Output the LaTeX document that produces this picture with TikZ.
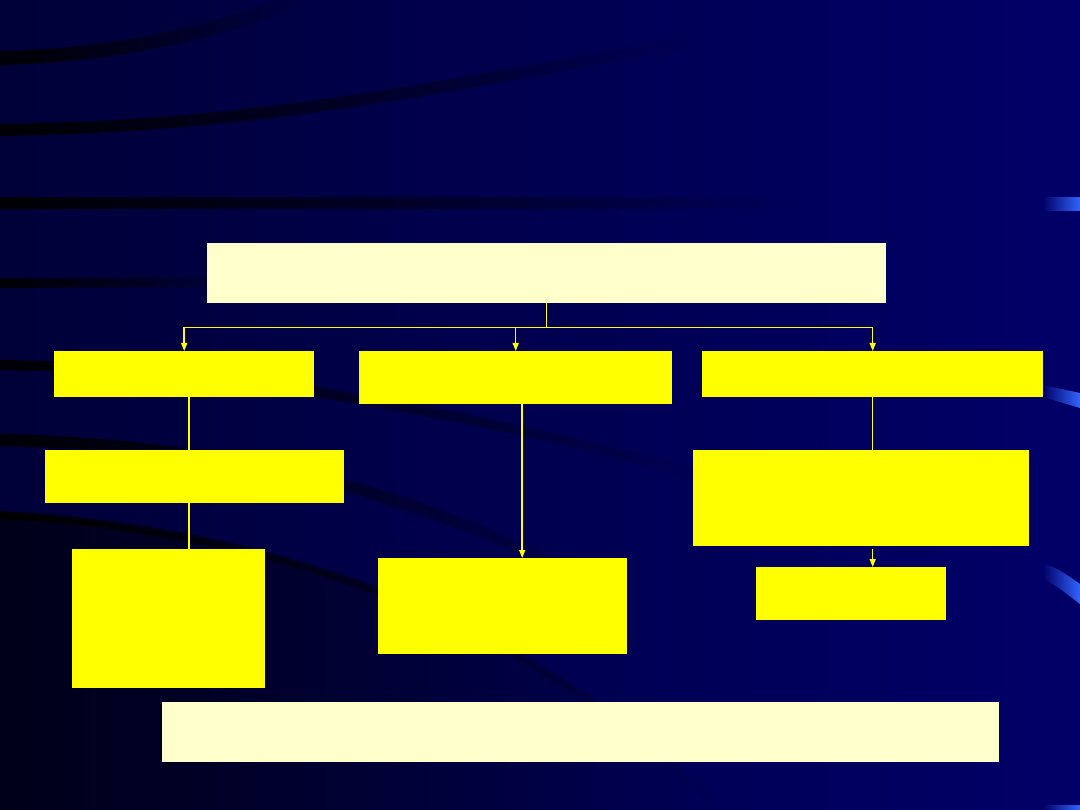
\documentclass[tikz,border=0pt]{standalone}
\usetikzlibrary{arrows.meta,fadings}
\definecolor{navy}{RGB}{0,0,104}
\definecolor{deepnavy}{RGB}{0,0,56}
\definecolor{cream}{RGB}{255,255,204}
\definecolor{lemon}{RGB}{255,255,0}
\definecolor{accent}{RGB}{51,102,255}
\tikzset{
  box/.style={fill=#1,draw=none,inner sep=0pt,anchor=north west},
  band/.style={draw=black,line width=#1,path fading=east,opacity=0.9},
  band/.default=12pt,
  link/.style={draw=lemon,line width=1.5pt}
}
\begin{document}
\begin{tikzpicture}[x=1pt,y=-1pt,>={Triangle[length=8pt,width=6pt]}]
  \useasboundingbox (0,0) rectangle (1080,810);
  \clip (0,0) rectangle (1080,810);
  % backdrop
  \shade[left color=deepnavy,right color=navy] (0,0) rectangle (1080,810);
  \fill[black,opacity=0.55,path fading=east] (0,515) .. controls (300,530) and (560,640) .. (720,810) -- (0,810) -- cycle;
  \draw[band=14pt] (0,58) .. controls (120,56) and (220,30) .. (300,0);
  \draw[band] (0,130) .. controls (250,126) and (400,95) .. (700,40);
  \draw[band] (0,203) -- (800,203);
  \draw[band=10pt] (0,283) -- (260,282);
  \draw[band=10pt] (0,365) .. controls (250,368) and (500,420) .. (720,480);
  \draw[band] (0,440) .. controls (250,445) and (450,500) .. (620,600);
  \draw[band=8pt] (0,515) .. controls (300,530) and (560,640) .. (720,810);
  \fill[accent,path fading=west] (1043,197) rectangle (1080,211);
  \fill[accent,path fading=west] (1043,385) -- (1080,393) -- (1080,408) -- (1043,397) -- cycle;
  \fill[accent,path fading=west] (1043,563) .. controls (1060,570) .. (1080,584) -- (1080,604) .. controls (1062,590) .. (1043,578) -- cycle;
  \fill[accent,path fading=west] (1043,805) rectangle (1080,810);
  % boxes
  \node[box=cream,minimum width=679pt,minimum height=60pt] (top) at (207,243) {};
  \node[box=lemon,minimum width=260pt,minimum height=46pt] (left1) at (54,351) {};
  \node[box=lemon,minimum width=313pt,minimum height=53pt] (mid1) at (359,351) {};
  \node[box=lemon,minimum width=341pt,minimum height=46pt] (right1) at (702,351) {};
  \node[box=lemon,minimum width=299pt,minimum height=53pt] (left2) at (45,450) {};
  \node[box=lemon,minimum width=336pt,minimum height=96pt] (right2) at (693,450) {};
  \node[box=lemon,minimum width=193pt,minimum height=139pt] (left3) at (72,549) {};
  \node[box=lemon,minimum width=249pt,minimum height=96pt] (mid3) at (378,558) {};
  \node[box=lemon,minimum width=190pt,minimum height=53pt] (right3) at (756,567) {};
  \node[box=cream,minimum width=837pt,minimum height=60pt] (bottom) at (162,702) {};
  % links
  \coordinate (split) at ([yshift=-24pt]top.south);
  \draw[link] (top.south) -- (split);
  \draw[link,->] (split) -| (left1.north);
  \draw[link,->] (split) -| (mid1.north);
  \draw[link,->] (split) -| (right1.north);
  \coordinate (lvert) at ([xshift=5pt]left1.south);
  \draw[link] (lvert) -- (lvert |- left2.north);
  \draw[link] (lvert |- left2.south) -- (lvert |- left3.north);
  \coordinate (mvert) at ([xshift=6.5pt]mid1.south);
  \draw[link,->] (mvert) -- (mvert |- mid3.north);
  \coordinate (rvert) at (right1.south);
  \draw[link] (rvert) -- (rvert |- right2.north);
  \draw[link,->] (rvert |- right2.south) ++(0,3) -- (rvert |- right3.north);
\end{tikzpicture}
\end{document}
